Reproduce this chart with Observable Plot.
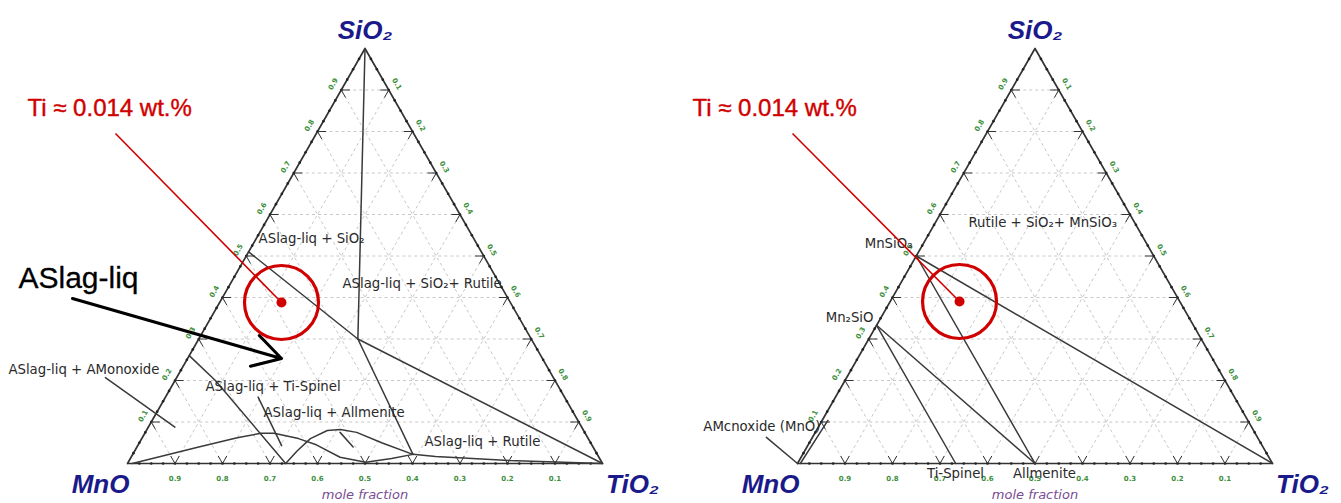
<!DOCTYPE html>
<html><head><meta charset="utf-8">
<script src="https://cdn.jsdelivr.net/npm/d3@7"></script>
<script src="https://cdn.jsdelivr.net/npm/@observablehq/plot@0.6"></script>
<style>
body{margin:0;background:#fff}
#wrap{display:flex;width:1341px;height:503px;overflow:hidden}
</style>
</head><body><div id="wrap"></div>
<script>
// ---------- data (compositions as [SiO2, TiO2] mole fractions; MnO = 1 - SiO2 - TiO2) ----------
const gridValues = [0.1,0.2,0.3,0.4,0.5,0.6,0.7,0.8,0.9];
const tickLabels = ["0.1","0.2","0.3","0.4","0.5","0.6","0.7","0.8","0.9"];
const minorTicks = [0.025,0.05,0.075,0.1,0.125,0.15,0.175,0.2,0.225,0.25,0.275,0.3,0.325,0.35,0.375,0.4,0.425,0.45,0.475,0.5,0.525,0.55,0.575,0.6,0.625,0.65,0.675,0.7,0.725,0.75,0.775,0.8,0.825,0.85,0.875,0.9,0.925,0.95,0.975];
const vertexNames = ["MnO","TiO₂","SiO₂"];

// left diagram: phase boundaries
const leftSilicaLine   = [[1,0],[0.30,0.335]];
const leftLongBoundary = [[0.51,0],[0.30,0.335],[0,1]];
const leftMidBoundary  = [[0.30,0.335],[0.022,0.59]];
const leftRutileBottom = [[0.022,0.59],[0.017,0.64],[0.007,0.8],[0.002,0.95],[0,1]];
const leftIlmeniteDome = [[0,0.333],[0.03,0.342],[0.06,0.355],[0.0795,0.381],[0.082,0.407],[0.075,0.445],[0.05,0.51],[0.022,0.59]];
const leftSpinelDome   = [[0,0.01],[0.02,0.07],[0.04,0.13],[0.062,0.2],[0.073,0.245],[0.073,0.272],[0.06,0.33],[0.045,0.375],[0.015,0.44],[0.003,0.5],[0.012,0.55],[0.022,0.59]];
const leftSpinelLine   = [[0.26,0],[0.2,0.085],[0,0.333]];
const leftMonoxideTie  = [[0.207,-0.15],[0.0875,0.056]];
const leftSpinelTie    = [[0.16,0.195],[0.043,0.303]];
const leftIlmeniteTie  = [[0.075,0.41],[0.04,0.455]];

// right diagram: tie lines
const rightTie1 = [[0.5,0],[0,1]];
const rightTie2 = [[0.5,0],[0,0.5]];
const rightTie3 = [[0.333,0],[0,0.5]];
const rightTie4 = [[0.333,0],[0,0.333]];
const rightMonoxide = [[0,0.006],[0.104,0.012]];
const rightMonoxidePointer = [[0.063,-0.097],[0,0]];

// sample composition (red marker) and annotation anchors
const leftSample  = [0.388,0.1302];
const rightSample = [0.3904,0.1459];
const leftPointerStart  = [0.7952,-0.4229];
const rightPointerStart = [0.7952,-0.4081];
const arrowFrom = [0.3976,-0.3146];
const arrowTo   = [0.253,0.1977];

const leftLabels = [
  {text:"ASlag-liq + SiO₂", at:[0.542,0.005]},
  {text:"ASlag-liq + SiO₂+ Rutile", at:[0.434,0.2356]},
  {text:"ASlag-liq + AMonoxide", at:[0.2265,-0.364]},
  {text:"ASlag-liq + Ti-Spinel", at:[0.1855,0.0715]},
  {text:"ASlag-liq + Allmenite", at:[0.1229,0.2249]},
  {text:"ASlag-liq + Rutile", at:[0.053,0.5988]}
];
const leftBigLabel = {text:"ASlag-liq", at:[0.446,-0.4525]};
const noteText = "Ti ≈ 0.014 wt.%";
const leftNoteAt  = [0.8554,-0.6382];
const rightNoteAt = [0.8554,-0.6488];

const rightLabelsStart = [
  {text:"Rutile + SiO₂+ MnSiO₃", at:[0.5807,0.0696]}
];
const rightLabelsEnd = [
  {text:"MnSiO₃", at:[0.53,-0.0229]},
  {text:"Mn₂SiO", at:[0.3518,-0.0159]},
  {text:"AMcnoxide (MnO)", at:[0.0892,0.0038]}
];
const rightLabelsMiddle = [
  {text:"Ti-Spinel", at:[-0.0241,0.3447]},
  {text:"Allmenite", at:[-0.0241,0.532]}
];

// ---------- ternary transform ----------
const R3 = Math.sqrt(3)/2;
const TX = (s,t) => t + s/2;
const TY = (s,t) => s*R3;
const px = p => TX(p[0],p[1]);
const py = p => TY(p[0],p[1]);

function pathData(lines){
  const out = [];
  lines.forEach((pts,i)=>pts.forEach(p=>out.push({id:i,s:p[0],t:p[1]})));
  return out;
}

function panel(w, boundaries, extra){
  const k = 475, ky = 415/R3;
  const x0 = 127, base = 463;
  const grid = "#c8c8c8", edge = "#333";
  const marks = [];
  // dashed grid
  marks.push(Plot.link(gridValues,{x1:v=>TX(v,0),y1:v=>TY(v,0),x2:v=>TX(v,1-v),y2:v=>TY(v,1-v),stroke:grid,strokeDasharray:"3,3",strokeWidth:1}));
  marks.push(Plot.link(gridValues,{x1:v=>TX(0,v),y1:v=>TY(0,v),x2:v=>TX(1-v,v),y2:v=>TY(1-v,v),stroke:grid,strokeDasharray:"3,3",strokeWidth:1}));
  marks.push(Plot.link(gridValues,{x1:v=>TX(0,1-v),y1:v=>TY(0,1-v),x2:v=>TX(1-v,0),y2:v=>TY(1-v,0),stroke:grid,strokeDasharray:"3,3",strokeWidth:1}));
  // triangle edges
  marks.push(Plot.line([[0,0],[0,1],[1,0],[0,0]],{x:px,y:py,stroke:edge,strokeWidth:1.7}));
  // minor tick dots
  marks.push(Plot.dot(minorTicks,{x:v=>TX(0,v),y:v=>TY(0,v),r:1.3,fill:"#222"}));
  marks.push(Plot.dot(minorTicks,{x:v=>TX(v,0),y:v=>TY(v,0),r:1.3,fill:"#222"}));
  marks.push(Plot.dot(minorTicks,{x:v=>TX(v,1-v),y:v=>TY(v,1-v),r:1.3,fill:"#222"}));
  // major ticks (short solid strokes into the triangle)
  const L = 0.018;
  marks.push(Plot.link(gridValues,{x1:v=>TX(0,v),y1:v=>TY(0,v),x2:v=>TX(L,v-L),y2:v=>TY(L,v-L),stroke:edge,strokeWidth:1}));
  marks.push(Plot.link(gridValues,{x1:v=>TX(0,v),y1:v=>TY(0,v),x2:v=>TX(L,v),y2:v=>TY(L,v),stroke:edge,strokeWidth:1}));
  marks.push(Plot.link(gridValues,{x1:v=>TX(v,0),y1:v=>TY(v,0),x2:v=>TX(v,L),y2:v=>TY(v,L),stroke:edge,strokeWidth:1}));
  marks.push(Plot.link(gridValues,{x1:v=>TX(v,0),y1:v=>TY(v,0),x2:v=>TX(v-L,L),y2:v=>TY(v-L,L),stroke:edge,strokeWidth:1}));
  marks.push(Plot.link(gridValues,{x1:v=>TX(v,1-v),y1:v=>TY(v,1-v),x2:v=>TX(v,1-v-L),y2:v=>TY(v,1-v-L),stroke:edge,strokeWidth:1}));
  marks.push(Plot.link(gridValues,{x1:v=>TX(v,1-v),y1:v=>TY(v,1-v),x2:v=>TX(v-L,1-v),y2:v=>TY(v-L,1-v),stroke:edge,strokeWidth:1}));
  // tick labels
  const tl = {fill:"#3d8f3d",fontSize:7,fontFamily:"DejaVu Sans",fontWeight:"bold"};
  marks.push(Plot.text(gridValues,{x:v=>TX(0,v),y:v=>TY(0,v),text:(v,i)=>tickLabels[8-i],dy:15,...tl}));
  marks.push(Plot.text(gridValues,{x:v=>TX(v,0),y:v=>TY(v,0),text:(v,i)=>tickLabels[i],dx:-8,dy:-6,rotate:-60,...tl}));
  marks.push(Plot.text(gridValues,{x:v=>TX(v,1-v),y:v=>TY(v,1-v),text:(v,i)=>tickLabels[8-i],dx:8,dy:-6,rotate:60,...tl}));
  // phase boundaries
  marks.push(Plot.line(pathData(boundaries),{x:d=>TX(d.s,d.t),y:d=>TY(d.s,d.t),z:"id",stroke:"#3a3a3a",strokeWidth:1.5,curve:"linear"}));
  // vertex labels
  const vl = {fill:"#1a1a8a",fontSize:26,fontFamily:"Liberation Sans, Arial",fontWeight:"bold",fontStyle:"italic"};
  marks.push(Plot.text([[0,0]],{x:px,y:py,text:()=>vertexNames[0],dx:-27,dy:21,...vl}));
  marks.push(Plot.text([[0,1]],{x:px,y:py,text:()=>vertexNames[1],dx:30,dy:21,...vl}));
  marks.push(Plot.text([[1,0]],{x:px,y:py,text:()=>vertexNames[2],dy:-18,...vl}));
  marks.push(Plot.text([[0,0.5]],{x:px,y:py,text:()=>"mole fraction",dy:31,fill:"#7a4c93",fontSize:13,fontFamily:"DejaVu Sans",fontStyle:"italic"}));
  marks.push(...extra);
  return Plot.plot({
    width:w,height:503,margin:0,
    x:{domain:[-x0/k,(w-x0)/k],range:[0,w],axis:null},
    y:{domain:[-(503-base)/ky,base/ky],range:[503,0],axis:null},
    style:{background:"transparent",overflow:"visible"},
    marks
  });
}

const red = "#d00000";
const phaseText = {fill:"#2a2a2a",fontSize:13.3,fontFamily:"DejaVu Sans",textAnchor:"start"};
const noteStyle = {fill:red,stroke:red,strokeWidth:0.4,fontSize:24,fontFamily:"Liberation Sans, Arial",textAnchor:"start",text:()=>noteText};

const leftExtra = [
  ...leftLabels.map(d=>Plot.text([d.at],{x:px,y:py,text:()=>d.text,...phaseText})),
  Plot.text([leftBigLabel.at],{x:px,y:py,text:()=>leftBigLabel.text,fill:"#000",stroke:"#000",strokeWidth:0.3,fontSize:30,fontFamily:"Liberation Sans, Arial",textAnchor:"start"}),
  Plot.arrow([0],{x1:()=>px(arrowFrom),y1:()=>py(arrowFrom),x2:()=>px(arrowTo),y2:()=>py(arrowTo),stroke:"#000",strokeWidth:3,headLength:16}),
  Plot.link([0],{x1:()=>px(leftPointerStart),y1:()=>py(leftPointerStart),x2:()=>px(leftSample),y2:()=>py(leftSample),stroke:red,strokeWidth:1.6}),
  Plot.dot([leftSample],{x:px,y:py,r:37,stroke:red,strokeWidth:3.2,fill:"none"}),
  Plot.dot([leftSample],{x:px,y:py,r:5,fill:red}),
  Plot.text([leftNoteAt],{x:px,y:py,...noteStyle})
];
const rightExtra = [
  ...rightLabelsStart.map(d=>Plot.text([d.at],{x:px,y:py,text:()=>d.text,...phaseText})),
  ...rightLabelsEnd.map(d=>Plot.text([d.at],{x:px,y:py,text:()=>d.text,...phaseText,textAnchor:"end"})),
  ...rightLabelsMiddle.map(d=>Plot.text([d.at],{x:px,y:py,text:()=>d.text,...phaseText,textAnchor:"middle"})),
  Plot.link([0],{x1:()=>px(rightPointerStart),y1:()=>py(rightPointerStart),x2:()=>px(rightSample),y2:()=>py(rightSample),stroke:red,strokeWidth:1.6}),
  Plot.dot([rightSample],{x:px,y:py,r:37,stroke:red,strokeWidth:3.2,fill:"none"}),
  Plot.dot([rightSample],{x:px,y:py,r:5,fill:red}),
  Plot.text([rightNoteAt],{x:px,y:py,...noteStyle})
];

const wrap = document.getElementById("wrap");
wrap.append(panel(670,[leftSilicaLine,leftLongBoundary,leftMidBoundary,leftRutileBottom,leftIlmeniteDome,leftSpinelDome,leftSpinelLine,leftMonoxideTie,leftSpinelTie,leftIlmeniteTie],leftExtra));
wrap.append(panel(671,[rightTie1,rightTie2,rightTie3,rightTie4,rightMonoxide,rightMonoxidePointer],rightExtra));
</script>
</body></html>
